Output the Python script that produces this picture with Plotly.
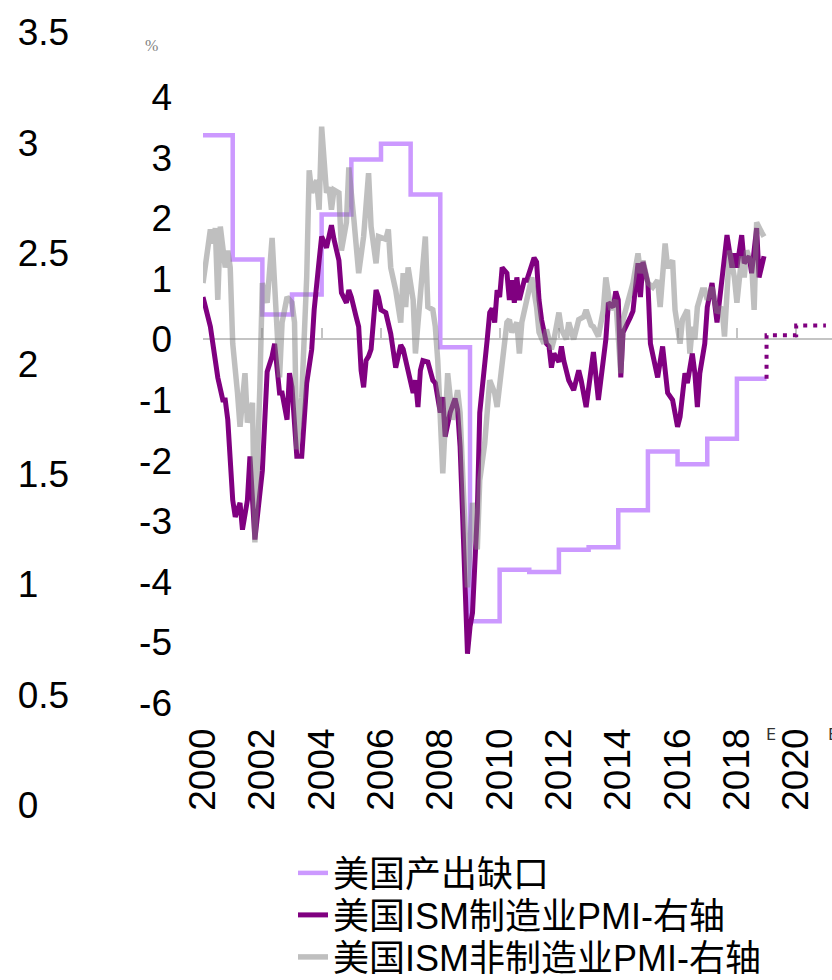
import plotly.graph_objects as go

# ---------------- data ----------------
# US output gap, annual levels (%)
gap_years = list(range(2000, 2019))
gap_values = [3.37, 1.32, 0.41, 0.74, 2.06, 2.97, 3.23, 2.39, -0.13, -4.65,
              -3.80, -3.84, -3.47, -3.43, -2.82, -1.85, -2.06, -1.64, -0.65]
# Forecast levels (E)
gap_fc_years = [2019, 2020]
gap_fc_values = [0.07, 0.23]
gap_fc_end = 2021

# ISM manufacturing PMI (right axis)
mfg_dates = [
    "2000-01", "2000-04", "2000-06", "2000-07", "2000-09", "2000-10", "2000-11",
    "2001-01", "2001-02", "2001-04", "2001-05", "2001-07", "2001-08", "2001-10",
    "2002-01", "2002-03", "2002-05", "2002-06", "2002-08", "2002-09", "2002-11", "2002-12",
    "2003-01", "2003-03", "2003-05", "2003-06", "2003-07", "2003-09", "2003-10", "2003-12",
    "2004-01", "2004-03", "2004-04", "2004-05", "2004-06", "2004-08", "2004-09", "2004-11", "2004-12",
    "2005-01", "2005-03", "2005-04", "2005-05", "2005-06", "2005-07", "2005-08", "2005-09", "2005-11", "2005-12",
    "2006-01", "2006-03", "2006-04", "2006-05", "2006-07", "2006-09", "2006-10", "2006-12",
    "2007-02", "2007-03", "2007-04", "2007-05", "2007-06", "2007-08", "2007-10", "2007-11",
    "2008-01", "2008-02", "2008-03", "2008-05", "2008-06", "2008-07", "2008-08", "2008-09", "2008-10", "2008-11", "2008-12",
    "2009-01", "2009-02", "2009-04", "2009-05", "2009-08", "2009-09", "2009-10", "2009-11", "2009-12",
    "2010-01", "2010-02", "2010-04", "2010-05", "2010-06", "2010-07", "2010-08", "2010-09", "2010-11", "2010-12",
    "2011-02", "2011-03", "2011-04", "2011-05", "2011-06", "2011-08", "2011-09", "2011-10", "2011-11",
    "2012-01", "2012-02", "2012-03", "2012-05", "2012-07", "2012-09", "2012-10", "2012-12",
    "2013-02", "2013-03", "2013-05", "2013-08", "2013-09", "2013-11", "2013-12",
    "2014-01", "2014-02", "2014-03", "2014-06", "2014-07", "2014-09", "2014-10", "2014-11",
    "2015-01", "2015-02", "2015-03", "2015-05", "2015-07", "2015-08", "2015-09", "2015-11",
    "2016-01", "2016-02", "2016-04", "2016-05", "2016-07", "2016-08", "2016-09", "2016-10", "2016-12",
    "2017-01", "2017-03", "2017-05", "2017-06", "2017-07", "2017-09", "2017-11", "2017-12",
    "2018-01", "2018-03", "2018-04", "2018-06", "2018-07", "2018-09", "2018-10", "2018-12",
]
mfg_pmi = [
    57.8, 55.7, 53.3, 52.1, 50.5, 50.5, 49.1,
    43.4, 42.2, 43.2, 41.3, 43.4, 46.5, 40.6,
    45.5, 52.5, 53.6, 54.5, 51.0, 51.0, 49.1, 52.4,
    51.4, 46.5, 46.5, 49.6, 51.7, 54.1, 56.9, 60.4,
    62.1, 61.3, 62.1, 62.9, 61.9, 60.4, 58.1, 57.4, 58.3,
    57.8, 56.4, 55.7, 52.6, 51.4, 53.3, 53.6, 54.1, 58.3, 57.8,
    56.9, 56.7, 56.0, 55.2, 52.8, 54.4, 54.1, 52.4,
    51.0, 51.9, 50.0, 52.6, 53.3, 53.2, 51.9, 51.7,
    49.6, 50.7, 47.9, 49.6, 50.0, 50.6, 49.8, 47.2, 42.5, 37.7, 32.5,
    34.4, 35.4, 42.5, 49.6, 54.8, 56.7, 57.0, 56.0, 58.3,
    57.8, 59.9, 59.5, 57.6, 59.0, 57.4, 59.2, 57.6, 59.0, 59.0,
    60.3, 60.6, 60.3, 57.6, 56.2, 54.5, 54.3, 52.8, 53.8,
    53.2, 54.3, 53.3, 51.9, 51.2, 52.6, 51.9, 50.0,
    52.8, 53.9, 50.5, 54.8, 57.4, 57.1, 58.2,
    57.6, 52.1, 55.3, 56.4, 56.8, 60.2, 57.8, 60.3,
    58.8, 54.5, 53.6, 52.1, 54.3, 52.8, 51.0, 50.5,
    48.6, 49.3, 52.4, 51.7, 53.8, 52.4, 50.0, 52.4, 54.5,
    57.1, 58.8, 56.0, 57.6, 59.0, 62.2, 59.9, 60.9,
    59.9, 62.2, 60.2, 60.7, 59.5, 62.7, 59.2, 60.7,
]

# ISM non-manufacturing PMI (right axis)
nonmfg_dates = [
    "2000-01", "2000-03", "2000-04", "2000-05", "2000-06", "2000-07", "2000-08", "2000-10", "2000-11", "2000-12",
    "2001-01", "2001-03", "2001-04", "2001-06", "2001-07", "2001-09", "2001-10", "2001-12",
    "2002-01", "2002-03", "2002-05", "2002-07", "2002-08", "2002-09", "2002-11",
    "2003-01", "2003-02", "2003-03", "2003-05", "2003-07", "2003-08", "2003-09", "2003-11", "2003-12",
    "2004-01", "2004-03", "2004-04", "2004-05", "2004-06", "2004-08", "2004-09", "2004-11", "2004-12",
    "2005-02", "2005-03", "2005-04", "2005-06", "2005-08", "2005-09", "2005-11", "2005-12",
    "2006-03", "2006-04", "2006-05", "2006-07", "2006-09", "2006-10", "2006-11", "2006-12",
    "2007-02", "2007-03", "2007-05", "2007-07", "2007-08", "2007-10", "2007-11", "2007-12",
    "2008-02", "2008-03", "2008-04", "2008-06", "2008-08", "2008-09", "2008-10", "2008-11", "2008-12",
    "2009-02", "2009-04", "2009-05", "2009-07", "2009-09", "2009-11", "2009-12",
    "2010-02", "2010-04", "2010-05", "2010-06", "2010-08", "2010-09", "2010-10", "2010-12",
    "2011-02", "2011-04", "2011-05", "2011-07", "2011-08", "2011-10", "2011-11",
    "2012-01", "2012-02", "2012-04", "2012-05", "2012-07", "2012-09", "2012-11", "2012-12",
    "2013-02", "2013-03", "2013-05", "2013-07", "2013-08", "2013-10", "2013-12",
    "2014-02", "2014-03", "2014-05", "2014-07", "2014-09", "2014-10", "2014-11",
    "2015-01", "2015-03", "2015-05", "2015-06", "2015-08", "2015-09", "2015-11", "2015-12",
    "2016-02", "2016-03", "2016-05", "2016-06", "2016-07", "2016-08", "2016-09", "2016-11", "2016-12",
    "2017-01", "2017-03", "2017-05", "2017-07", "2017-08", "2017-10", "2017-12",
    "2018-01", "2018-03", "2018-04", "2018-05", "2018-07", "2018-08", "2018-09", "2018-11", "2018-12",
]
nonmfg_pmi = [
    58.8, 61.0, 62.6, 61.6, 62.7, 57.6, 62.8, 59.9, 61.1, 59.9,
    54.5, 51.0, 48.6, 52.4, 48.9, 50.3, 40.4, 51.4,
    58.8, 57.4, 62.0, 55.5, 52.1, 56.0, 57.8,
    57.4, 56.0, 47.0, 50.7, 59.2, 66.8, 65.2, 66.1, 64.0,
    69.9, 65.2, 65.6, 64.0, 65.4, 65.2, 61.1, 63.1, 67.0,
    63.3, 61.4, 59.5, 62.1, 66.6, 62.8, 60.2, 62.1,
    61.9, 62.6, 59.9, 58.3, 56.0, 59.5, 57.1, 59.9,
    57.6, 53.8, 58.5, 62.1, 57.1, 56.9, 55.7, 53.3,
    45.3, 49.6, 52.4, 49.1, 51.2, 49.6, 46.0, 40.5, 37.2,
    43.2, 39.9, 44.8, 47.4, 51.9, 51.0, 50.0,
    52.8, 56.0, 56.2, 55.3, 56.0, 53.8, 56.0, 57.6,
    59.2, 57.1, 55.3, 54.5, 55.5, 54.1, 54.8,
    56.7, 55.5, 54.8, 56.0, 54.8, 56.2, 56.4, 56.9,
    55.8, 55.7, 55.0, 56.9, 59.2, 56.9, 57.6,
    52.4, 56.2, 57.6, 58.8, 60.9, 59.5, 60.4,
    58.8, 58.5, 59.0, 57.1, 61.6, 59.9, 60.4, 56.9,
    54.5, 56.2, 56.9, 53.8, 55.7, 54.8, 57.1, 58.3, 58.3,
    57.6, 58.5, 56.7, 57.1, 55.0, 61.1, 59.2,
    57.4, 60.7, 59.2, 61.1, 60.2, 56.9, 63.1, 62.4, 62.1,
]

year_ticks = list(range(2000, 2021, 2))
left_ticks = list(range(-6, 5))
outer_ticks = [0, 0.5, 1, 1.5, 2, 2.5, 3, 3.5]

# ---------------- styling ----------------
W, H = 832, 980
FONT = "Liberation Sans, Arial, Noto Sans CJK SC, sans-serif"
LEGEND_FONT = "Liberation Sans, Noto Sans CJK SC, sans-serif"
GAP_COLOR = "#CC99FF"
MFG_COLOR = "#800080"
NONMFG_COLOR = "rgba(128,128,128,0.5)"
AXIS_GRAY = "#C4C4C4"


def fmt(v):
    return "%g" % v  # plain hyphen for negatives


def ystart(y):
    return f"{y}-01-01"


plot_x0 = 203 / W
y_dom = [1 - 703 / H, 1 - 97 / H]
y_rng = [left_ticks[0], left_ticks[-1]]
y3_dom = [1 - 805 / H, 1 - 32.5 / H]
x_rng = ["2000-01-01", "2021-03-17"]

# step series for the output gap
gap_x = [ystart(y) for y in gap_years] + [ystart(gap_years[-1] + 1)]
gap_y = gap_values + [gap_values[-1]]
fc_x = [ystart(gap_years[-1] + 1)] + [ystart(y) for y in gap_fc_years] + [ystart(gap_fc_end)]
fc_y = [gap_values[-1]] + gap_fc_values + [gap_fc_values[-1]]

fig = go.Figure()

fig.add_trace(go.Scatter(
    x=gap_x, y=gap_y, mode="lines", name="美国产出缺口", legend="legend",
    line=dict(color=GAP_COLOR, width=4.5, shape="hv"),
    xaxis="x", yaxis="y", hoverinfo="skip"))

fig.add_trace(go.Scatter(
    x=mfg_dates, y=mfg_pmi, mode="lines", name="美国ISM制造业PMI-右轴", legend="legend2",
    line=dict(color=MFG_COLOR, width=5),
    xaxis="x", yaxis="y2", hoverinfo="skip"))

fig.add_trace(go.Scatter(
    x=nonmfg_dates, y=nonmfg_pmi, mode="lines", name="美国ISM非制造业PMI-右轴", legend="legend3",
    line=dict(color=NONMFG_COLOR, width=5.5),
    xaxis="x", yaxis="y2", hoverinfo="skip"))

fig.add_trace(go.Scatter(
    x=fc_x, y=fc_y, mode="lines", showlegend=False,
    line=dict(color=MFG_COLOR, width=4, dash="4px,6px", shape="hv"),
    xaxis="x", yaxis="y", hoverinfo="skip"))

# carriers for the zero-line axis and the outer scale
fig.add_trace(go.Scatter(x=[x_rng[0]], y=[0], mode="markers", marker=dict(opacity=0),
                         showlegend=False, hoverinfo="skip", xaxis="x2", yaxis="y"))
fig.add_trace(go.Scatter(x=[x_rng[0]], y=[0], mode="markers", marker=dict(opacity=0),
                         showlegend=False, hoverinfo="skip", xaxis="x", yaxis="y3"))

zero_pos = y_dom[0] + (0 - y_rng[0]) / (y_rng[1] - y_rng[0]) * (y_dom[1] - y_dom[0])

legend_style = dict(
    x=293 / W, xanchor="left", yanchor="middle",
    font=dict(size=36, family=LEGEND_FONT, color="black"),
    bgcolor="rgba(0,0,0,0)", borderwidth=0,
)

fig.update_layout(
    width=W, height=H,
    margin=dict(l=0, r=0, t=0, b=0, autoexpand=False),
    paper_bgcolor="white", plot_bgcolor="rgba(0,0,0,0)",
    font=dict(family=FONT, color="black"),
    showlegend=True,
    xaxis=dict(
        type="date", domain=[plot_x0, 1], range=x_rng, anchor="y",
        tickvals=[ystart(y) for y in year_ticks], ticktext=[str(y) for y in year_ticks],
        tickangle=-90, tickfont=dict(size=37, family=FONT, color="black"),
        showline=False, ticks="", showgrid=False, zeroline=False,
        ticklabelstandoff=17, automargin=False,
    ),
    xaxis2=dict(
        type="date", overlaying="x", range=x_rng, anchor="free", position=zero_pos,
        showline=True, linecolor=AXIS_GRAY, linewidth=2,
        ticks="inside", ticklen=10, tickwidth=1.5, tickcolor=AXIS_GRAY,
        tickvals=[ystart(y) for y in year_ticks], showticklabels=False,
        showgrid=False, zeroline=False, layer="below traces", automargin=False,
    ),
    yaxis=dict(
        domain=y_dom, range=y_rng, anchor="x",
        tickvals=left_ticks, ticktext=[fmt(v) for v in left_ticks],
        tickfont=dict(size=37, family=FONT, color="black"),
        showline=False, ticks="", showgrid=False, zeroline=False,
        ticklabelstandoff=30, automargin=False,
    ),
    yaxis2=dict(overlaying="y", range=[29, 72], visible=False, side="right"),
    yaxis3=dict(
        domain=y3_dom, range=[0, 3.5], anchor="free", position=0.02, side="right",
        tickvals=outer_ticks, ticktext=[fmt(v) for v in outer_ticks],
        tickfont=dict(size=37, family=FONT, color="black"),
        showline=False, ticks="", showgrid=False, zeroline=False, automargin=False,
    ),
    legend=dict(legend_style, y=1 - 873 / H),
    legend2=dict(legend_style, y=1 - 915 / H),
    legend3=dict(legend_style, y=1 - 957 / H),
    annotations=[
        dict(text="%", xref="paper", yref="paper", x=151 / W, y=1 - 45.5 / H,
             xanchor="center", yanchor="middle", showarrow=False,
             font=dict(size=16, family="Liberation Serif", color="#7F7F7F")),
        dict(text="E", xref="x", yref="paper", x="2019-03-01", y=1 - 734 / H,
             xanchor="center", yanchor="middle", showarrow=False,
             font=dict(size=16, family="DejaVu Sans", color="#333333")),
        dict(text="E", xref="paper", yref="paper", x=826 / W, y=1 - 734 / H,
             xanchor="left", yanchor="middle", showarrow=False,
             font=dict(size=16, family="DejaVu Sans", color="#333333")),
    ],
)

fig.write_html("out.html")
